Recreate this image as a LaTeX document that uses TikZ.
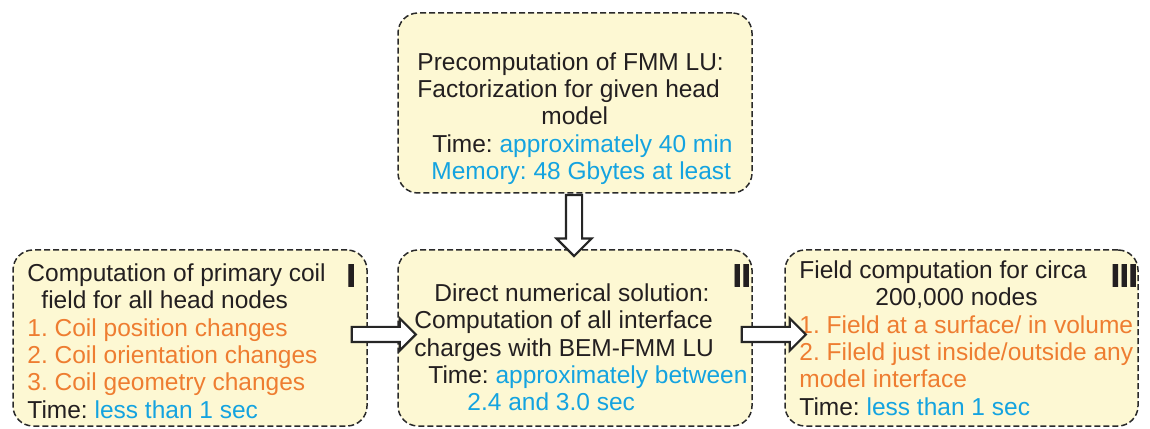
\documentclass[tikz,border=0pt]{standalone}
\usepackage{fontspec}
\setmainfont{Liberation Sans}
\newfontfamily\numfont[FakeBold=2.5]{Liberation Sans Bold}
\usetikzlibrary{calc,shapes.arrows}
\definecolor{boxfill}{HTML}{FDF8D3}
\definecolor{boxline}{HTML}{2A2A2A}
\definecolor{txtdark}{HTML}{231F20}
\definecolor{txtorange}{HTML}{EE7D31}
\definecolor{txtblue}{HTML}{14A3E0}
\newcommand{\ora}[1]{\textcolor{txtorange}{#1}}
\newcommand{\blu}[1]{\textcolor{txtblue}{#1}}
\frenchspacing

\begin{document}
\begin{tikzpicture}[x=1pt,y=1pt,
  panel/.style={draw=boxline,fill=boxfill,dash pattern=on 6pt off 3pt,line width=1.5pt,rounded corners=20pt,inner sep=0pt},
  txt/.style={anchor=north west,inner sep=0pt,align=left,text=txtdark,font=\fontsize{24.5}{27.4}\selectfont},
  numeral/.style={anchor=north east,inner sep=0pt,text=txtdark,font=\numfont\fontsize{32}{32}\selectfont},
  hollow/.style={single arrow,draw=black!85,fill=white,line width=2.2pt,single arrow head extend=8.5pt}]
\useasboundingbox (0,0) rectangle (1150,428);
\node[panel,minimum width=354pt,minimum height=180pt] (pre) at (575,325) {};
\node[panel,minimum width=354pt,minimum height=176pt] (coil) at (190,90) {};
\node[panel,minimum width=354pt,minimum height=176pt] (solve) at (575,90) {};
\node[panel,minimum width=353pt,minimum height=176pt] (field) at (961.5,90) {};
\node[txt] (pretxt) at ($(pre.north west)+(20,-40)$) {Precomputation of FMM LU:\\Factorization for given head\\\hspace*{124pt}model\\\hspace*{15pt}Time: \blu{approximately 40 min}\\\hspace*{14pt}\blu{Memory: 48 Gbytes at least}};
\node[txt] (coiltxt) at ($(coil.north west)+(15,-14)$) {Computation of primary coil\\\hspace*{14pt}field for all head nodes\\\ora{1. Coil position changes}\\\ora{2. Coil orientation changes}\\\ora{3. Coil geometry changes}\\Time: \blu{less than 1 sec}};
\node[txt] (solvetxt) at ($(solve.north west)+(17,-34)$) {\hspace*{20pt}Direct numerical solution:\\Computation of all interface\\charges with BEM-FMM LU\\\hspace*{14pt}Time: \blu{approximately between}\\\hspace*{53pt}\blu{2.4 and 3.0 sec}};
\node[txt] (fieldtxt) at ($(field.north west)+(15,-11)$) {Field computation for circa\\\hspace*{76pt}200,000 nodes\\\ora{1. Field at a surface/ in volume}\\\ora{2. Fileld just inside/outside any}\\\ora{model interface}\\Time: \blu{less than 1 sec}};
\node[numeral] (n1) at ($(coil.north east)+(-12,-15)$) {I};
\node[numeral] (n2) at ($(solve.north east)+(-2,-15)$) {II};
\node[numeral] (n3) at ($(field.north east)+(-1,-15)$) {III};
\node[hollow,inner sep=6.5pt,minimum height=64pt] (a1) at ($(coil.east)!0.5!(solve.west)+(-2.5,3.5)$) {};
\node[hollow,inner sep=6.5pt,minimum height=64pt] (a2) at ($(solve.east)!0.5!(field.west)+(1.5,3.5)$) {};
\node[hollow,inner sep=7pt,single arrow head extend=9.5pt,minimum height=61pt,shape border rotate=270] (a0) at ($(pre.south)!0.5!(solve.north)+(-1,0)$) {};
\end{tikzpicture}
\end{document}
